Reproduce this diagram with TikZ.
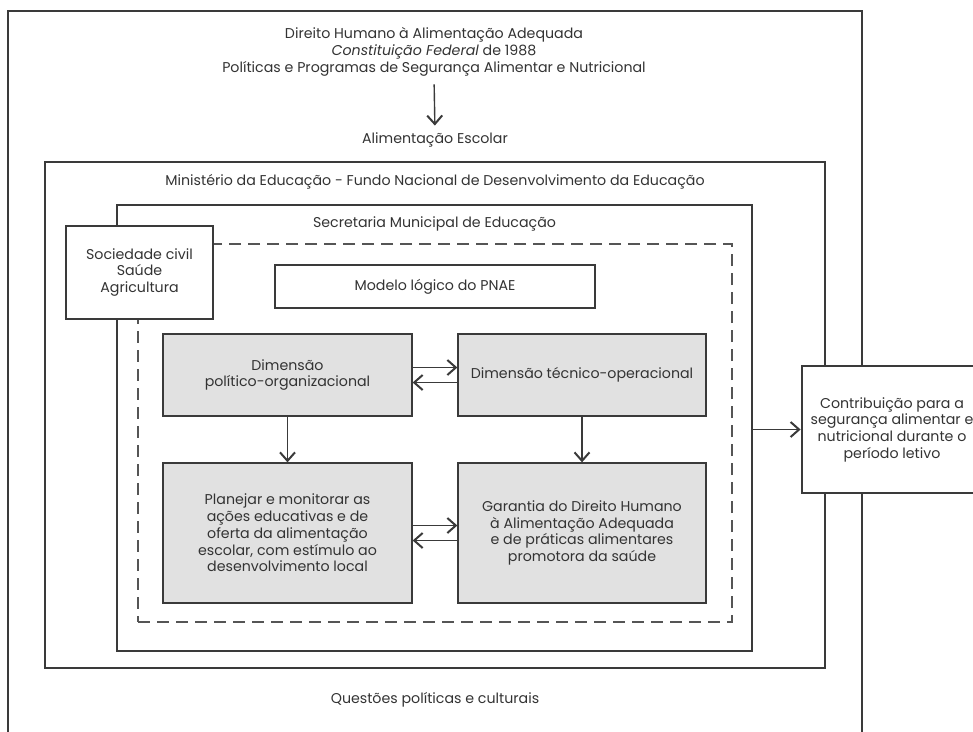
\documentclass[tikz,border=0pt]{standalone}
\usepackage{fontspec}
\setmainfont{Poppins}
\usetikzlibrary{arrows.meta}
\definecolor{ln}{HTML}{3A3A3A}
\definecolor{dsh}{HTML}{555555}
\definecolor{fillg}{HTML}{E1E1E1}
\definecolor{txt}{HTML}{333333}
\begin{document}
\begin{tikzpicture}[x=1pt,y=-1pt,
  every node/.style={text=txt, font=\fontsize{14.2}{16.7}\selectfont, align=center, inner sep=0pt},
  frame/.style={draw=ln, line width=1.3pt},
  graybox/.style={draw=ln, line width=1.3pt, fill=fillg},
  whitebox/.style={draw=ln, line width=1.3pt, fill=white},
  dashbox/.style={draw=dsh, line width=1.4pt, dash pattern=on 12pt off 7pt},
  arr/.style={draw=ln, line width=1.4pt, -{Straight Barb[length=8.5pt,width=15pt,line width=2pt]}}
]
\useasboundingbox (0,0) rectangle (973,731);
\clip (0,0) rectangle (973,731);
% outer frame (open at bottom)
\draw[frame] (8,745) -- (8,11) -- (862,11) -- (862,745);
% containers
\node[frame, minimum width=780pt, minimum height=506pt] (min) at (435,415) {};
\node[frame, minimum width=635pt, minimum height=446pt] (sec) at (434.5,428) {};
\node[dashbox, minimum width=594pt, minimum height=378pt] (dsb) at (435,433) {};
% texts
\node (title) at (434,52) {\fontsize{14.2}{19.5}\selectfont Direito Humano à Alimentação Adequada\\\textit{Constituição Federal} de 1988\\Políticas e Programas de Segurança Alimentar e Nutricional};
\node (alim) at (435,140) {Alimentação Escolar};
\node (minlbl) at (435,182) {Ministério da Educação - Fundo Nacional de Desenvolvimento da Educação};
\node (seclbl) at (434.5,224) {Secretaria Municipal de Educação};
\node (quest) at (435,700) {Questões políticas e culturais};
% boxes
\node[whitebox, minimum width=147pt, minimum height=93pt] (soc) at (139.5,272.5) {\fontsize{14.2}{20}\selectfont Sociedade civil\\Saúde\\Agricultura};
\node[whitebox, minimum width=320pt, minimum height=43pt] (mod) at (435,286.5) {Modelo lógico do PNAE};
\node[graybox, minimum width=249pt, minimum height=82pt] (dp) at (287.5,375) {Dimensão\\político-organizacional};
\node[graybox, minimum width=248pt, minimum height=82pt] (dt) at (582,375) {Dimensão técnico-operacional};
\node[graybox, minimum width=249pt, minimum height=140pt] (pl) at (287.5,533) {Planejar e monitorar as\\ações educativas e de\\oferta da alimentação\\escolar, com estímulo ao\\desenvolvimento local};
\node[graybox, minimum width=248pt, minimum height=140pt] (ga) at (582,533) {Garantia do Direito Humano\\à Alimentação Adequada\\e de práticas alimentares\\promotora da saúde};
\node[draw=ln, line width=2.8pt, fill=white, minimum width=180pt, minimum height=127pt] (con) at (892,429.5) {Contribuição para a\\segurança alimentar e\\nutricional durante o\\período letivo};
% connectors
\draw[arr, shorten <=8pt, shorten >=7pt] (title.south) -- (alim.north);
\draw[arr] ([yshift=7.5pt]dp.east) -- ([yshift=7.5pt]dt.west);
\draw[arr] ([yshift=-7.5pt]dt.west) -- ([yshift=-7.5pt]dp.east);
\draw[arr] ([yshift=7.5pt]pl.east) -- ([yshift=7.5pt]ga.west);
\draw[arr] ([yshift=-7.5pt]ga.west) -- ([yshift=-7.5pt]pl.east);
\draw[arr] (dp.south) -- (pl.north);
\draw[arr] (dt.south) -- (ga.north);
\draw[arr] (sec.east |- con.west) -- (con.west);
\end{tikzpicture}
\end{document}
